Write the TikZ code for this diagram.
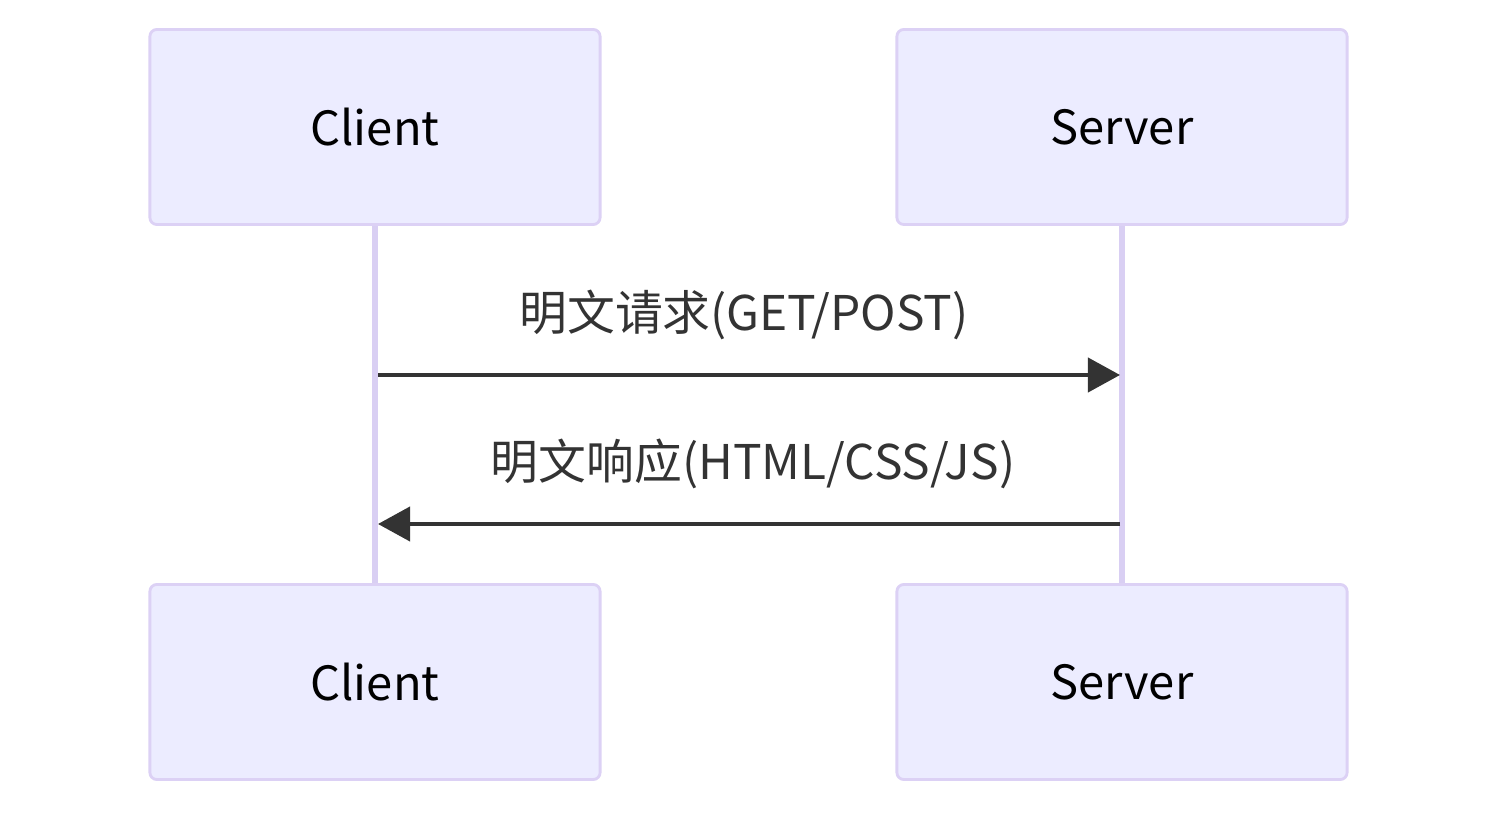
\documentclass[tikz,border=0pt]{standalone}
\usepackage{fontspec}
\setmainfont{Noto Sans CJK SC}
\usepackage{tikz}
\usetikzlibrary{arrows.meta}
\definecolor{actorfill}{HTML}{ECECFF}
\definecolor{actorline}{HTML}{DCD1F5}
\definecolor{lifecol}{HTML}{D9CFF3}
\definecolor{msgcol}{HTML}{333333}
\tikzset{actor/.style = {shape=rectangle,draw=actorline,fill=actorfill,line width=0.8pt,rounded corners=2pt,minimum width=4.5cm,minimum height=1.95cm,font=\fontsize{13.4}{16}\selectfont}}
\tikzset{lifeline/.style = {draw=lifecol,line width=1.7pt}}
\tikzset{msg/.style = {draw=msgcol,line width=1.15pt,-{Triangle[length=0.32cm,width=0.34cm]}}}
\tikzset{msglabel/.style = {text=msgcol,font=\fontsize{13.6}{16}\selectfont}}

\begin{document}
\begin{tikzpicture}[x=0.01cm,y=-0.01cm]
                \useasboundingbox (0,0) rectangle (1497,813);
                \draw[lifeline] (375,225) coordinate (ctop) -- (375,585) coordinate (cbot);
                \draw[lifeline] (1122,225) coordinate (stop) -- (1122,585) coordinate (sbot);
                \node[actor] (C) at (375,127) {Client};
                \node[actor] (S) at (1122,127) {Server};
                \node[actor] (C2) at (375,682) {Client};
                \node[actor] (S2) at (1122,682) {Server};
                \coordinate (c1) at (378,375);
                \coordinate (s1) at (1120,375);
                \coordinate (c2) at (378,524);
                \coordinate (s2) at (1120,524);
                \draw[msg] (c1) -- (s1);
                \draw[msg] (s2) -- (c2);
                \node[msglabel] (req) at (744,315) {明文请求(GET/POST)};
                \node[msglabel] (resp) at (753,464) {明文响应(HTML/CSS/JS)};
            \end{tikzpicture}
\end{document}
